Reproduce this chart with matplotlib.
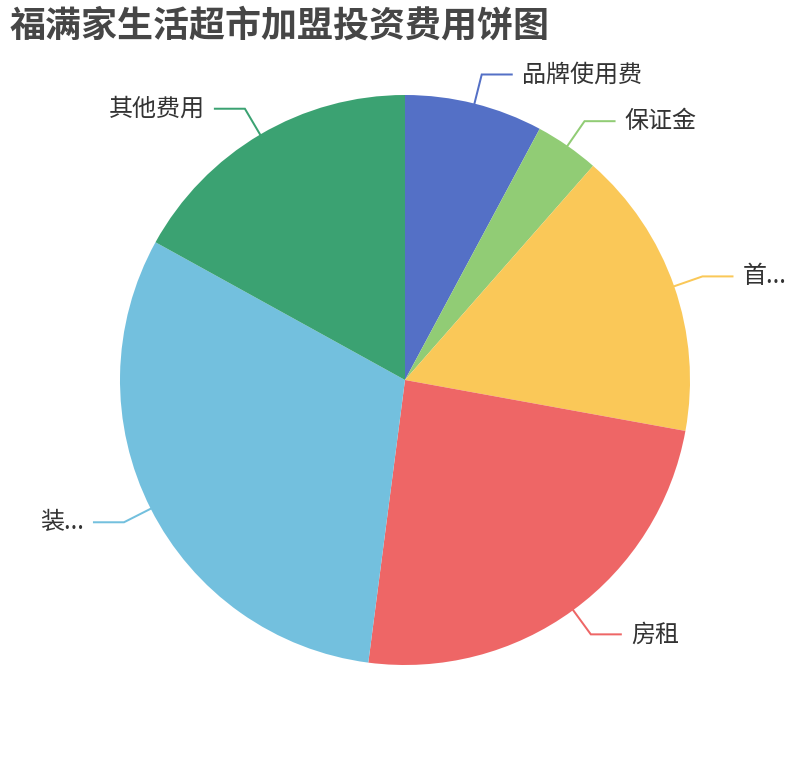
import matplotlib
matplotlib.use("Agg")
import matplotlib.pyplot as plt
import numpy as np

plt.rcParams['font.family'] = ['Noto Sans CJK SC', 'DejaVu Sans']

title = "福满家生活超市加盟投资费用饼图"
labels = ["品牌使用费", "保证金", "首...", "房租", "装...", "其他费用"]
values = [2.82, 1.31, 5.9, 8.71, 11.15, 6.11]
colors = ["#5470c6", "#91cc75", "#fac858", "#ee6666", "#73c0de", "#3ba272"]

W, H = 810, 760
cx, cy, r = 405, 380, 285

fig = plt.figure(figsize=(W / 100, H / 100), dpi=100)
ax = fig.add_axes([0, 0, 1, 1])

wedges, _ = ax.pie(values, colors=colors, center=(cx, H - cy), radius=r,
                   startangle=90, counterclock=False,
                   wedgeprops=dict(linewidth=0))

# leader lines + labels, echarts style (radial 30px, horizontal 30px, gap 10px)
for w, lab, col in zip(wedges, labels, colors):
    mid = np.deg2rad((w.theta1 + w.theta2) / 2)
    c, s = np.cos(mid), np.sin(mid)
    x1, y1 = cx + r * c, (H - cy) + r * s
    x2, y2 = cx + (r + 30) * c, (H - cy) + (r + 30) * s
    side = 1 if c >= 0 else -1
    x3 = x2 + side * 30
    ax.plot([x1, x2, x3], [y1, y2, y2], color=col, lw=1.44,
            solid_joinstyle="miter")
    ax.text(x3 + side * 10, y2, lab, fontsize=17.3, color="#333333",
            ha="left" if side > 0 else "right", va="center")

ax.text(10, H - 8, title, fontsize=25.9, fontweight="bold", color="#464646",
        ha="left", va="top")

ax.set_xlim(0, W)
ax.set_ylim(0, H)
ax.set_aspect("auto")
ax.axis("off")

fig.savefig("out.png", dpi=100, facecolor="white")
